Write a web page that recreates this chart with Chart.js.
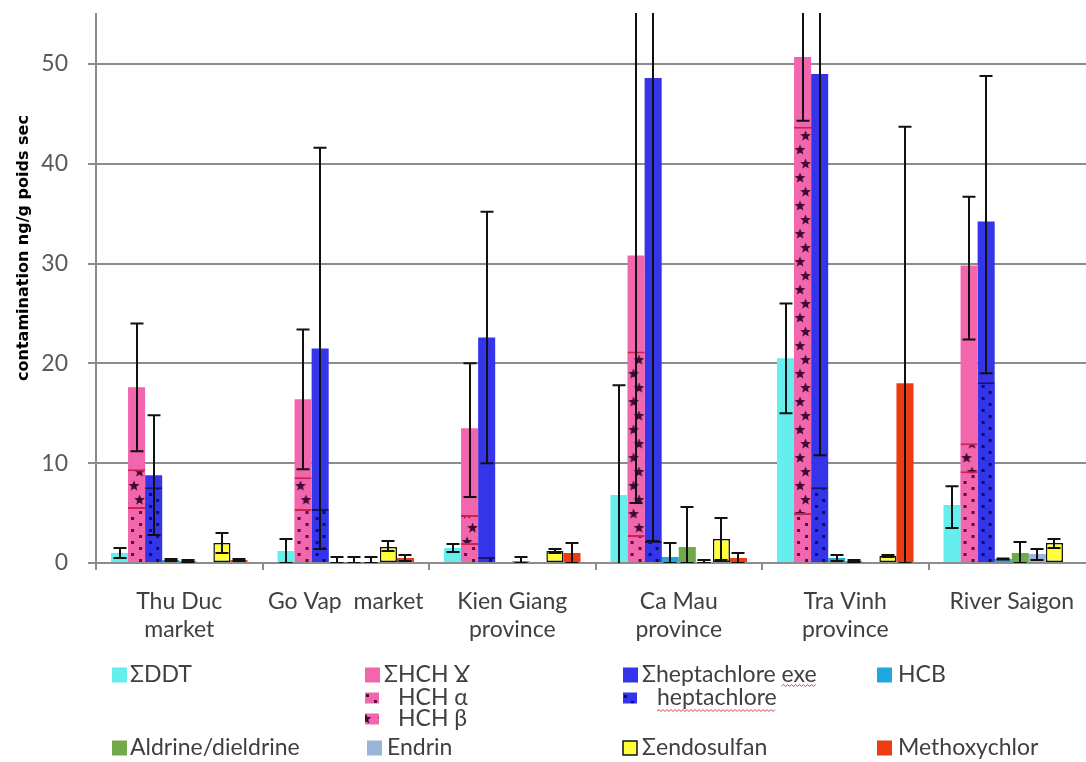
<!DOCTYPE html>
<html>
<head>
<meta charset="utf-8">
<script src="https://cdn.jsdelivr.net/npm/chart.js@4.4.1/dist/chart.umd.min.js"></script>
<style>
  html, body { margin: 0; padding: 0; background: #fff; overflow: hidden; }
  #wrap { width: 1096px; height: 762px; }
</style>
</head>
<body>
<div id="wrap"><canvas id="chart" width="1096" height="762"></canvas></div>
<script>
// Sampling sites
const categories = [['Thu Duc', 'market'], ['Go Vap  market'], ['Kien Giang', 'province'],
                    ['Ca Mau', 'province'], ['Tra Vinh', 'province'], ['River Saigon']];
const yTickValues = [0, 10, 20, 30, 40, 50];
const seriesNames = ['ΣDDT', 'ΣHCH Ɣ', 'HCH α', 'HCH β', 'Σheptachlore exe', 'heptachlore',
                     'HCB', 'Aldrine/dieldrine', 'Endrin', 'Σendosulfan', 'Methoxychlor'];

// Mean contamination, ng/g poids sec
const sumDDT        = [1.0, 1.2, 1.5, 6.8, 20.5, 5.8];
const sumHCH        = [17.6, 16.4, 13.5, 30.8, 50.7, 29.8];
const hchAlpha      = [5.6, 5.4, 2.0, 2.8, 5.0, 9.2];
const hchBeta       = [9.4, 8.6, 4.8, 21.2, 43.7, 12.0];
const sumHeptachlor = [8.8, 21.5, 22.6, 48.6, 49.0, 34.2];
const heptachlor    = [7.6, 5.4, 0.6, 2.2, 7.6, 18.1];
const hcb           = [0.3, 0.1, 0.0, 0.6, 0.5, 0.4];
const aldrin        = [0.2, 0.1, 0.2, 1.6, 0.2, 1.0];
const endrin        = [0.0, 0.1, 0.0, 0.1, 0.0, 0.9];
const sumEndosulfan = [2.0, 1.6, 1.2, 2.4, 0.7, 2.0];
const methoxychlor  = [0.3, 0.5, 1.0, 0.5, 18.0, 0.0];

// Error bars, [minus, plus]
const sumDDTErr        = [[0.5, 0.5], [1.2, 1.2], [0.4, 0.4], [11.0, 11.0], [5.5, 5.5], [2.3, 1.9]];
const sumHCHErr        = [[6.4, 6.4], [7.0, 7.0], [6.9, 6.5], [24.8, 24.8], [6.4, 6.4], [7.4, 6.9]];
const sumHeptachlorErr = [[6.0, 6.0], [20.1, 20.1], [12.6, 12.6], [46.4, 46.4], [38.2, 38.2], [15.2, 14.6]];
const hcbErr           = [[0.1, 0.1], [0.1, 0.5], [0, 0], [0.6, 1.4], [0.3, 0.3], [0.05, 0.05]];
const aldrinErr        = [[0.1, 0.1], [0.1, 0.5], [0.2, 0.4], [1.6, 4.0], [0.1, 0.1], [1.0, 1.1]];
const endrinErr        = [[0, 0], [0.1, 0.5], [0, 0], [0.1, 0.2], [0, 0], [0.6, 0.5]];
const sumEndosulfanErr = [[1.0, 1.0], [0.4, 0.6], [0.2, 0.2], [2.1, 2.1], [0.1, 0.1], [0.5, 0.4]];
const methoxychlorErr  = [[0.1, 0.1], [0.3, 0.3], [1.0, 1.0], [0.5, 0.5], [18.0, 25.7], [0, 0]];

// Colours
const C_DDT = '#66EEEE', C_HCH = '#F266AE', C_HEPTA = '#3434E8', C_HCB = '#1FA8E0',
      C_ALD = '#72A94A', C_END = '#9AB5DA', C_ENDO = '#FFFF3A', C_METH = '#EE3C12';

const CAT_PCT = 0.82;
const SLOTS = 8;
const LABEL_FONT = 'Lato, "DejaVu Sans", sans-serif';

// Fill tiles for the hatched sub-series
function makeTile(w, h, bg, paint) {
  const c = document.createElement('canvas');
  c.width = w; c.height = h;
  const g = c.getContext('2d');
  g.fillStyle = bg; g.fillRect(0, 0, w, h);
  paint(g);
  return c;
}
function star(g, cx, cy, ro, ri) {
  g.beginPath();
  for (let k = 0; k < 10; k++) {
    const r = k % 2 ? ri : ro;
    const a = -Math.PI / 2 + k * Math.PI / 5;
    const px = cx + r * Math.cos(a), py = cy + r * Math.sin(a);
    k ? g.lineTo(px, py) : g.moveTo(px, py);
  }
  g.closePath(); g.fill();
}
const alphaTile = makeTile(17, 12, C_HCH, g => {
  g.fillStyle = '#5C0D3E';
  g.fillRect(3, 2, 3, 3); g.fillRect(11, 8, 3, 3);
});
const betaTile = makeTile(17, 28, C_HCH, g => {
  g.fillStyle = '#420A32';
  star(g, 6, 7, 5.6, 2.4); star(g, 11.5, 21, 5.6, 2.4);
});
const heptaTile = makeTile(17, 12, C_HEPTA, g => {
  g.fillStyle = '#0E0E62';
  g.fillRect(4, 2, 3, 3); g.fillRect(11, 8, 3, 3);
});

function slotLeft(chart, index, slot) {
  const xs = chart.scales.x;
  if (!xs || !chart.chartArea) return 0;
  const cw = (xs.right - xs.left) / categories.length;
  const gw = cw * CAT_PCT;
  const v = xs.getPixelForValue(index) - gw / 2 + slot * gw / SLOTS;
  return isFinite(v) ? v : 0;
}
function patternFill(tileCanvas, slot) {
  return (c) => {
    const chart = c.chart;
    const p = chart.ctx.createPattern(tileCanvas, 'repeat');
    const x = slotLeft(chart, c.dataIndex, slot);
    const y = chart.chartArea ? chart.chartArea.bottom : 0;
    p.setTransform(new DOMMatrix([1, 0, 0, 1, x, y]));
    return p;
  };
}

const datasets = [
  { label: seriesNames[0], data: sumDDT, errors: sumDDTErr, stack: 's0', backgroundColor: C_DDT },
  { label: seriesNames[2], data: hchAlpha, stack: 's1', backgroundColor: patternFill(alphaTile, 1),
    borderColor: '#C8244F', borderWidth: { top: 2, left: 0, right: 0, bottom: 0 }, borderSkipped: 'bottom' },
  { label: seriesNames[3], data: hchBeta, stack: 's1', backgroundColor: patternFill(betaTile, 1),
    borderColor: '#C8244F', borderWidth: { top: 2, left: 0, right: 0, bottom: 0 }, borderSkipped: 'bottom' },
  { label: seriesNames[1], data: sumHCH, errors: sumHCHErr, stack: 's1', backgroundColor: C_HCH },
  { label: seriesNames[5], data: heptachlor, stack: 's2', backgroundColor: patternFill(heptaTile, 2),
    borderColor: '#15156E', borderWidth: { top: 2, left: 0, right: 0, bottom: 0 }, borderSkipped: 'bottom' },
  { label: seriesNames[4], data: sumHeptachlor, errors: sumHeptachlorErr, stack: 's2', backgroundColor: C_HEPTA },
  { label: seriesNames[6], data: hcb, errors: hcbErr, stack: 's3', backgroundColor: C_HCB },
  { label: seriesNames[7], data: aldrin, errors: aldrinErr, stack: 's4', backgroundColor: C_ALD },
  { label: seriesNames[8], data: endrin, errors: endrinErr, stack: 's5', backgroundColor: C_END },
  { label: seriesNames[9], data: sumEndosulfan, errors: sumEndosulfanErr, stack: 's6', backgroundColor: C_ENDO,
    borderColor: '#111', borderWidth: 1.5, borderSkipped: false },
  { label: seriesNames[10], data: methoxychlor, errors: methoxychlorErr, stack: 's7', backgroundColor: C_METH }
];

// Vertical error bars with caps, clipped to the plot area
const errorBars = {
  id: 'errorBars',
  afterDatasetsDraw(chart) {
    const { ctx, chartArea: a, scales: { y } } = chart;
    ctx.save();
    ctx.beginPath();
    ctx.rect(a.left, a.top - 1, a.right - a.left, a.bottom - a.top + 1);
    ctx.clip();
    ctx.strokeStyle = '#111';
    ctx.lineWidth = 2;
    chart.data.datasets.forEach((ds, di) => {
      if (!ds.errors) return;
      chart.getDatasetMeta(di).data.forEach((bar, i) => {
        const [lo, hi] = ds.errors[i];
        if (!lo && !hi) return;
        const v = ds.data[i];
        const yT = y.getPixelForValue(v + hi), yB = y.getPixelForValue(v - lo);
        const x = Math.round(bar.x);
        ctx.beginPath();
        ctx.moveTo(x, yT); ctx.lineTo(x, yB);
        ctx.moveTo(x - 6.5, yT); ctx.lineTo(x + 6.5, yT);
        ctx.moveTo(x - 6.5, yB); ctx.lineTo(x + 6.5, yB);
        ctx.stroke();
      });
    });
    ctx.restore();
  }
};

function squiggle(ctx, x1, x2, y) {
  ctx.save();
  ctx.strokeStyle = '#E03A3A';
  ctx.lineWidth = 1;
  ctx.beginPath();
  ctx.moveTo(x1, y);
  let up = true;
  for (let x = x1 + 2; x <= x2; x += 2) { ctx.lineTo(x, up ? y - 1.5 : y + 0.5); up = !up; }
  ctx.stroke();
  ctx.restore();
}

// Axis title and the legend block under the axis
const decorations = {
  id: 'decorations',
  afterDraw(chart) {
    const ctx = chart.ctx;
    ctx.save();
    ctx.translate(24, 248);
    ctx.rotate(-Math.PI / 2);
    ctx.font = 'bold 16px "DejaVu Sans", sans-serif';
    ctx.fillStyle = '#000';
    ctx.textAlign = 'center';
    ctx.textBaseline = 'middle';
    ctx.fillText('contamination ng/g poids sec', 0, 0);
    ctx.restore();

    ctx.save();
    ctx.font = '23px ' + LABEL_FONT;
    ctx.fillStyle = '#404040';
    ctx.textAlign = 'left';
    ctx.textBaseline = 'middle';
    const box = (x, y, fill, w, h, stroke) => {
      ctx.fillStyle = fill;
      ctx.fillRect(x, y - h / 2, w, h);
      if (stroke) { ctx.strokeStyle = stroke; ctx.lineWidth = 1.5; ctx.strokeRect(x, y - h / 2, w, h); }
      ctx.fillStyle = '#404040';
    };
    const tilePat = (t, x, y) => {
      const p = ctx.createPattern(t, 'repeat');
      p.setTransform(new DOMMatrix([1, 0, 0, 1, x, y]));
      return p;
    };
    const r1 = 675, r2 = 698, r3 = 719, r4 = 748;
    box(112, r1, C_DDT, 15, 15); ctx.fillText(seriesNames[0], 130, r1);
    box(365, r1, C_HCH, 15, 15); ctx.fillText(seriesNames[1], 384, r1);
    box(365, r2, tilePat(alphaTile, 363, r2 - 6), 14, 11); ctx.fillText(seriesNames[2], 398, r2);
    box(365, r3, tilePat(betaTile, 360, r3 - 7), 14, 11); ctx.fillText(seriesNames[3], 398, r3);
    box(623, r1, C_HEPTA, 15, 15); ctx.fillText(seriesNames[4], 642, r1);
    const pre = ctx.measureText('Σheptachlore ').width, exe = ctx.measureText('exe').width;
    squiggle(ctx, 642 + pre, 642 + pre + exe, r1 + 11);
    box(623, r2, tilePat(heptaTile, 620, r2 - 5), 14, 11); ctx.fillText(seriesNames[5], 657, r2);
    squiggle(ctx, 657, 657 + ctx.measureText(seriesNames[5]).width, r2 + 13);
    box(877, r1, C_HCB, 15, 15); ctx.fillText(seriesNames[6], 898, r1);
    box(112, r4, C_ALD, 15, 15); ctx.fillText(seriesNames[7], 130, r4);
    box(367, r4, C_END, 15, 15); ctx.fillText(seriesNames[8], 387, r4);
    box(623, r4, C_ENDO, 14, 14, '#111'); ctx.fillText(seriesNames[9], 642, r4);
    box(877, r4, C_METH, 15, 15); ctx.fillText(seriesNames[10], 898, r4);
    ctx.restore();
  }
};

new Chart(document.getElementById('chart'), {
  type: 'bar',
  data: { labels: categories, datasets },
  plugins: [errorBars, decorations],
  options: {
    responsive: false,
    animation: false,
    devicePixelRatio: 1,
    layout: { padding: { top: 14, left: 0, right: 1, bottom: 0 } },
    datasets: { bar: { barPercentage: 1, categoryPercentage: CAT_PCT } },
    plugins: { legend: { display: false }, tooltip: { enabled: false } },
    scales: {
      x: {
        grid: { offset: true, drawOnChartArea: false, drawTicks: true, tickLength: 7, color: '#8C8C8C', lineWidth: 2 },
        border: { display: true, color: '#8C8C8C', width: 2 },
        ticks: { color: '#404040', padding: 18, maxRotation: 0, autoSkip: false,
                 font: { family: LABEL_FONT, size: 23, lineHeight: '28px' } },
        afterFit(s) { s.height = 199; }
      },
      y: {
        stacked: false,
        min: 0, max: 55,
        afterBuildTicks(s) { s.ticks = yTickValues.map(v => ({ value: v })); },
        grid: { color: '#8C8C8C', lineWidth: 2, tickLength: 8, drawTicks: true },
        border: { display: true, color: '#8C8C8C', width: 2 },
        ticks: { color: '#595959', padding: 20, font: { family: LABEL_FONT, size: 23 } },
        afterFit(s) { s.width = 96; s.paddingTop = 0; s.paddingBottom = 0; }
      }
    }
  }
});
</script>
</body>
</html>
